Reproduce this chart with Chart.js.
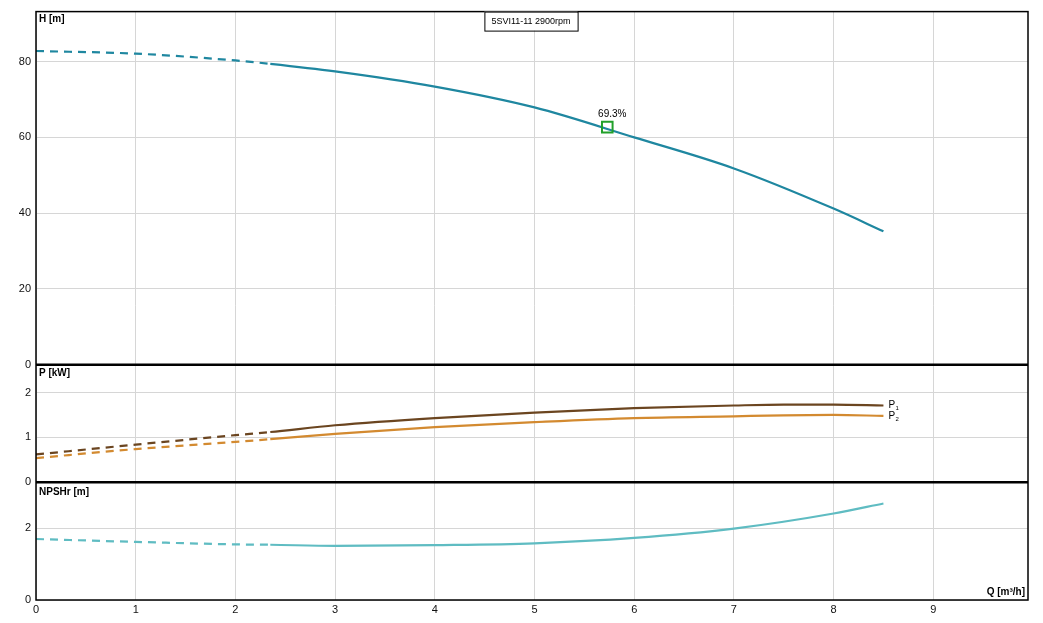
<!DOCTYPE html>
<html>
<head>
    <meta charset="utf-8">
    <title>5SVI11-11 2900rpm</title>
    <style>
        body { margin: 0; background: #fff; }
        #wrap { width: 1043px; height: 623px; }
    </style>
</head>
<body>
    <div id="wrap"><canvas id="pumpChart" width="1043" height="623"></canvas></div>

    <script src="https://cdn.jsdelivr.net/npm/chart.js"></script>

    <script>
        // curve data
        var qHead = [0, 1, 2, 2.35, 3, 4, 5, 6, 7, 8, 8.5];
        var head = [82.8, 82.1, 80.3, 79.4, 77.4, 73.4, 67.9, 60.0, 51.8, 41.2, 35.2];

        var qPower = [0, 1, 2, 2.35, 3, 4, 5, 6, 7, 7.5, 8, 8.5];
        var p1 = [0.62, 0.84, 1.05, 1.12, 1.27, 1.43, 1.55, 1.65, 1.71, 1.73, 1.73, 1.71];
        var p2 = [0.54, 0.74, 0.90, 0.96, 1.08, 1.23, 1.34, 1.43, 1.47, 1.49, 1.50, 1.48];

        var qNpsh = [0, 1, 2, 2.35, 3, 4, 5, 6, 7, 8, 8.5];
        var npsh = [1.70, 1.62, 1.55, 1.54, 1.51, 1.53, 1.58, 1.73, 1.99, 2.41, 2.69];

        var dutyQ = 5.73;
        var dutyH = 62.7;
        var dutyLabel = '69.3%';

        var dashLimit = 2.35; // below this flow the curves are dashed
        var titleText = '5SVI11-11 2900rpm';

        function pts(xs, ys) {
            return xs.map(function(x, i) { return { x: x, y: ys[i] }; });
        }

        function dashed(ctx) {
            return ctx.p1.parsed.x <= dashLimit + 0.001 ? [8, 6] : undefined;
        }

        function curve(label, xs, ys, axis, color) {
            return {
                label: label,
                data: pts(xs, ys),
                yAxisID: axis,
                borderColor: color,
                borderWidth: 2.2,
                pointRadius: 0,
                fill: false,
                cubicInterpolationMode: 'monotone',
                segment: { borderDash: dashed }
            };
        }

        var FONT = '"Liberation Sans", Arial, sans-serif';

        // frame, panel dividers and the texts
        var decor = {
            id: 'decor',
            afterDraw: function(chart) {
                var c = chart.ctx;
                var a = chart.chartArea;
                var s = chart.scales;
                var yTopP = s.yP.top;
                var yTopN = s.yN.top;
                c.save();
                c.strokeStyle = '#000';
                c.lineWidth = 1.5;
                c.strokeRect(a.left, a.top, a.right - a.left, a.bottom - a.top);
                c.lineWidth = 2.5;
                c.beginPath();
                c.moveTo(a.left, yTopP); c.lineTo(a.right, yTopP);
                c.moveTo(a.left, yTopN); c.lineTo(a.right, yTopN);
                c.stroke();

                c.fillStyle = '#000';
                c.textBaseline = 'middle';
                c.font = 'bold 10px ' + FONT;
                c.textAlign = 'left';
                c.fillText('H [m]', a.left + 3, a.top + 8);
                c.fillText('P [kW]', a.left + 3, yTopP + 9);
                c.fillText('NPSHr [m]', a.left + 3, yTopN + 10);
                c.textAlign = 'right';
                c.fillText('Q [m\u00b3/h]', a.right - 3, a.bottom - 8);

                // title box
                c.font = '9px ' + FONT;
                c.textAlign = 'center';
                var tw = c.measureText(titleText).width + 14;
                var tx = 531;
                c.lineWidth = 1;
                c.fillStyle = '#fff';
                c.fillRect(tx - tw / 2, a.top, tw, 19);
                c.strokeRect(tx - tw / 2 + 0.5, a.top + 0.5, tw, 19);
                c.fillStyle = '#000';
                c.fillText(titleText, tx, a.top + 10);

                // duty point label
                c.font = '10px ' + FONT;
                c.fillText(dutyLabel, s.x.getPixelForValue(dutyQ) + 5, s.yH.getPixelForValue(dutyH) - 13);

                // P1 / P2 end labels
                c.textAlign = 'left';
                var ex = s.x.getPixelForValue(qPower[qPower.length - 1]) + 5;
                [[p1, '1'], [p2, '2']].forEach(function(item) {
                    var yy = s.yP.getPixelForValue(item[0][item[0].length - 1]);
                    c.font = '10px ' + FONT;
                    c.fillText('P', ex, yy);
                    c.font = '6px ' + FONT;
                    c.fillText(item[1], ex + 7, yy + 3);
                });
                c.restore();
            }
        };

        var tickFont = { family: FONT, size: 11 };

        var myChart = new Chart(document.getElementById('pumpChart'), {
            type: 'line',
            data: {
                datasets: [
                    {
                        label: 'duty',
                        data: [{ x: dutyQ, y: dutyH }],
                        yAxisID: 'yH',
                        showLine: false,
                        pointStyle: 'rect',
                        pointRadius: 7.5,
                        pointBorderWidth: 2,
                        pointBorderColor: '#22a02a',
                        pointBackgroundColor: 'rgba(0,0,0,0)'
                    },
                    curve('H', qHead, head, 'yH', '#1f87a0'),
                    curve('P1', qPower, p1, 'yP', '#6b4520'),
                    curve('P2', qPower, p2, 'yP', '#d38a30'),
                    curve('NPSHr', qNpsh, npsh, 'yN', '#5fbcc2')
                ]
            },
            options: {
                responsive: false,
                animation: false,
                layout: { padding: { top: 10, right: 15, left: 0, bottom: 0 } },
                plugins: {
                    legend: { display: false },
                    tooltip: { enabled: false }
                },
                scales: {
                    x: {
                        type: 'linear',
                        min: 0,
                        max: 9.95,
                        border: { display: false },
                        grid: { color: '#d6d6d6', drawTicks: false },
                        ticks: { stepSize: 1, includeBounds: false, padding: 3, color: '#111', font: tickFont },
                        afterFit: function(s) { s.height = 23; }
                    },
                    // stacked panels: the first one listed ends up at the bottom
                    yN: {
                        position: 'left',
                        stack: 'panels',
                        stackWeight: 1,
                        min: 0,
                        max: 3.28,
                        border: { display: false },
                        grid: { color: '#d6d6d6', drawTicks: false },
                        ticks: { stepSize: 2, includeBounds: false, padding: 5, color: '#111', font: tickFont },
                        afterFit: function(s) { s.width = 36; }
                    },
                    yP: {
                        position: 'left',
                        stack: 'panels',
                        stackWeight: 1,
                        min: 0,
                        max: 2.62,
                        border: { display: false },
                        grid: { color: '#d6d6d6', drawTicks: false },
                        ticks: { stepSize: 1, includeBounds: false, padding: 5, color: '#111', font: tickFont },
                        afterFit: function(s) { s.width = 36; }
                    },
                    yH: {
                        position: 'left',
                        stack: 'panels',
                        stackWeight: 3,
                        min: 0,
                        max: 93.2,
                        border: { display: false },
                        grid: { color: '#d6d6d6', drawTicks: false },
                        ticks: { stepSize: 20, includeBounds: false, padding: 5, color: '#111', font: tickFont },
                        afterFit: function(s) { s.width = 36; }
                    }
                }
            },
            plugins: [decor]
        });
    </script>
</body>
</html>
